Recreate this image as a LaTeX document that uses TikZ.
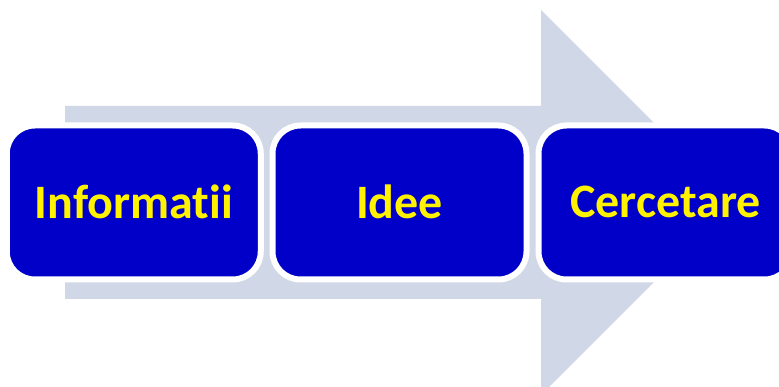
\documentclass[tikz,border=0pt]{standalone}
\usepackage{fontspec}
\setmainfont[Ligatures=NoCommon]{Carlito}
\definecolor{arrowfill}{HTML}{D0D8E8}
\definecolor{boxblue}{HTML}{0000C8}
\tikzset{
  stagebox/.style={draw=white,line width=6pt,fill=boxblue,rounded corners=28pt,
    minimum width=254pt,minimum height=154pt,inner sep=0pt,outer sep=0pt,
    text=yellow,font=\fontsize{48}{58}\selectfont\bfseries},
  bigarrow/.style={fill=arrowfill,draw=none}
}
\begin{document}
\begin{tikzpicture}[x=1pt,y=-1pt]
\useasboundingbox (0,0) rectangle (779,387);
\clip (0,0) rectangle (779,387);
\fill[white] (0,0) rectangle (779,387);
\path[bigarrow] (65,106) -- (541,106) -- (541,10) -- (733.5,202.5) -- (541,395) -- (541,299) -- (65,299) -- cycle;
\node[stagebox] (info) at (133.75,202.5) {\raisebox{1pt}{Informatii}};
\node[stagebox] (idee) at (399.5,202.5) {\raisebox{1pt}{Idee}};
\node[stagebox] (cerc) at (665.5,202.5) {\raisebox{1pt}{Cercetare}};
\end{tikzpicture}
\end{document}
